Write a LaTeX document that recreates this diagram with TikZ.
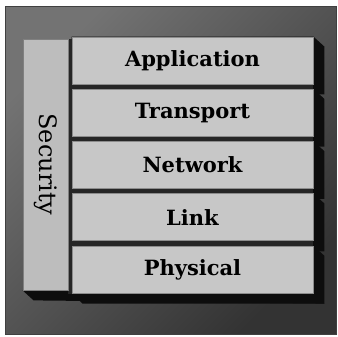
\documentclass[tikz,border=0pt]{standalone}
\usepackage{fontspec}
\setmainfont{DejaVu Serif}
\usepackage{tikz}
\usetikzlibrary{positioning, calc, backgrounds}

\begin{document}
\begin{tikzpicture}[x=1pt, y=1pt,
      layer/.style={draw=black!45, line width=0.8pt, fill=black!22, minimum width=241, minimum height=47, inner sep=0pt, font=\fontsize{21}{24}\selectfont\bfseries},
      sec/.style={draw=black!50, line width=0.8pt, fill=black!26, minimum width=45, minimum height=251, inner sep=0pt, font=\fontsize{24}{27}\selectfont},
      extrude/.style={fill=black!95},
      node distance=4.5]
    \useasboundingbox (0,0) rectangle (338,337);
    % --- background panel ---
    \begin{pgfonlayer}{background}
      \shade[top color=black!55, bottom color=black!80, shading angle=45] (5,2) rectangle (336,330);
      \draw[black!75, line width=1pt] (5,2) rectangle (336,330);
    \end{pgfonlayer}
    % --- the stack ---
    \node[layer] (app) at (192.5,276.5) {Application};
    \node[layer, below=of app]   (trans) {Transport};
    \node[layer, below=of trans] (net)   {Network};
    \node[layer, below=of net]   (link)  {Link};
    \node[layer, below=of link]  (phys)  {Physical};
    \node[sec] (sec) at (45.5,172.5) {\rotatebox{-90}{Security}};
    % --- 3d shadows, behind the boxes ---
    \begin{pgfonlayer}{background}
      \foreach \n in {app, trans, net, link, phys}
        \fill[extrude] (\n.north west) -- (\n.north east) -- ++(11,-10) -- ($(\n.south east)+(11,-10)$) -- ($(\n.south west)+(11,-10)$) -- (\n.south west) -- cycle;
      \fill[extrude] (sec.south west) -- ++(11,-10) -- ($(phys.south east)+(11,-10)$) -- (phys.south east) -- cycle;
      \fill[black!85] (sec.north east) rectangle (phys.south east);
    \end{pgfonlayer}
  \end{tikzpicture}
\end{document}
